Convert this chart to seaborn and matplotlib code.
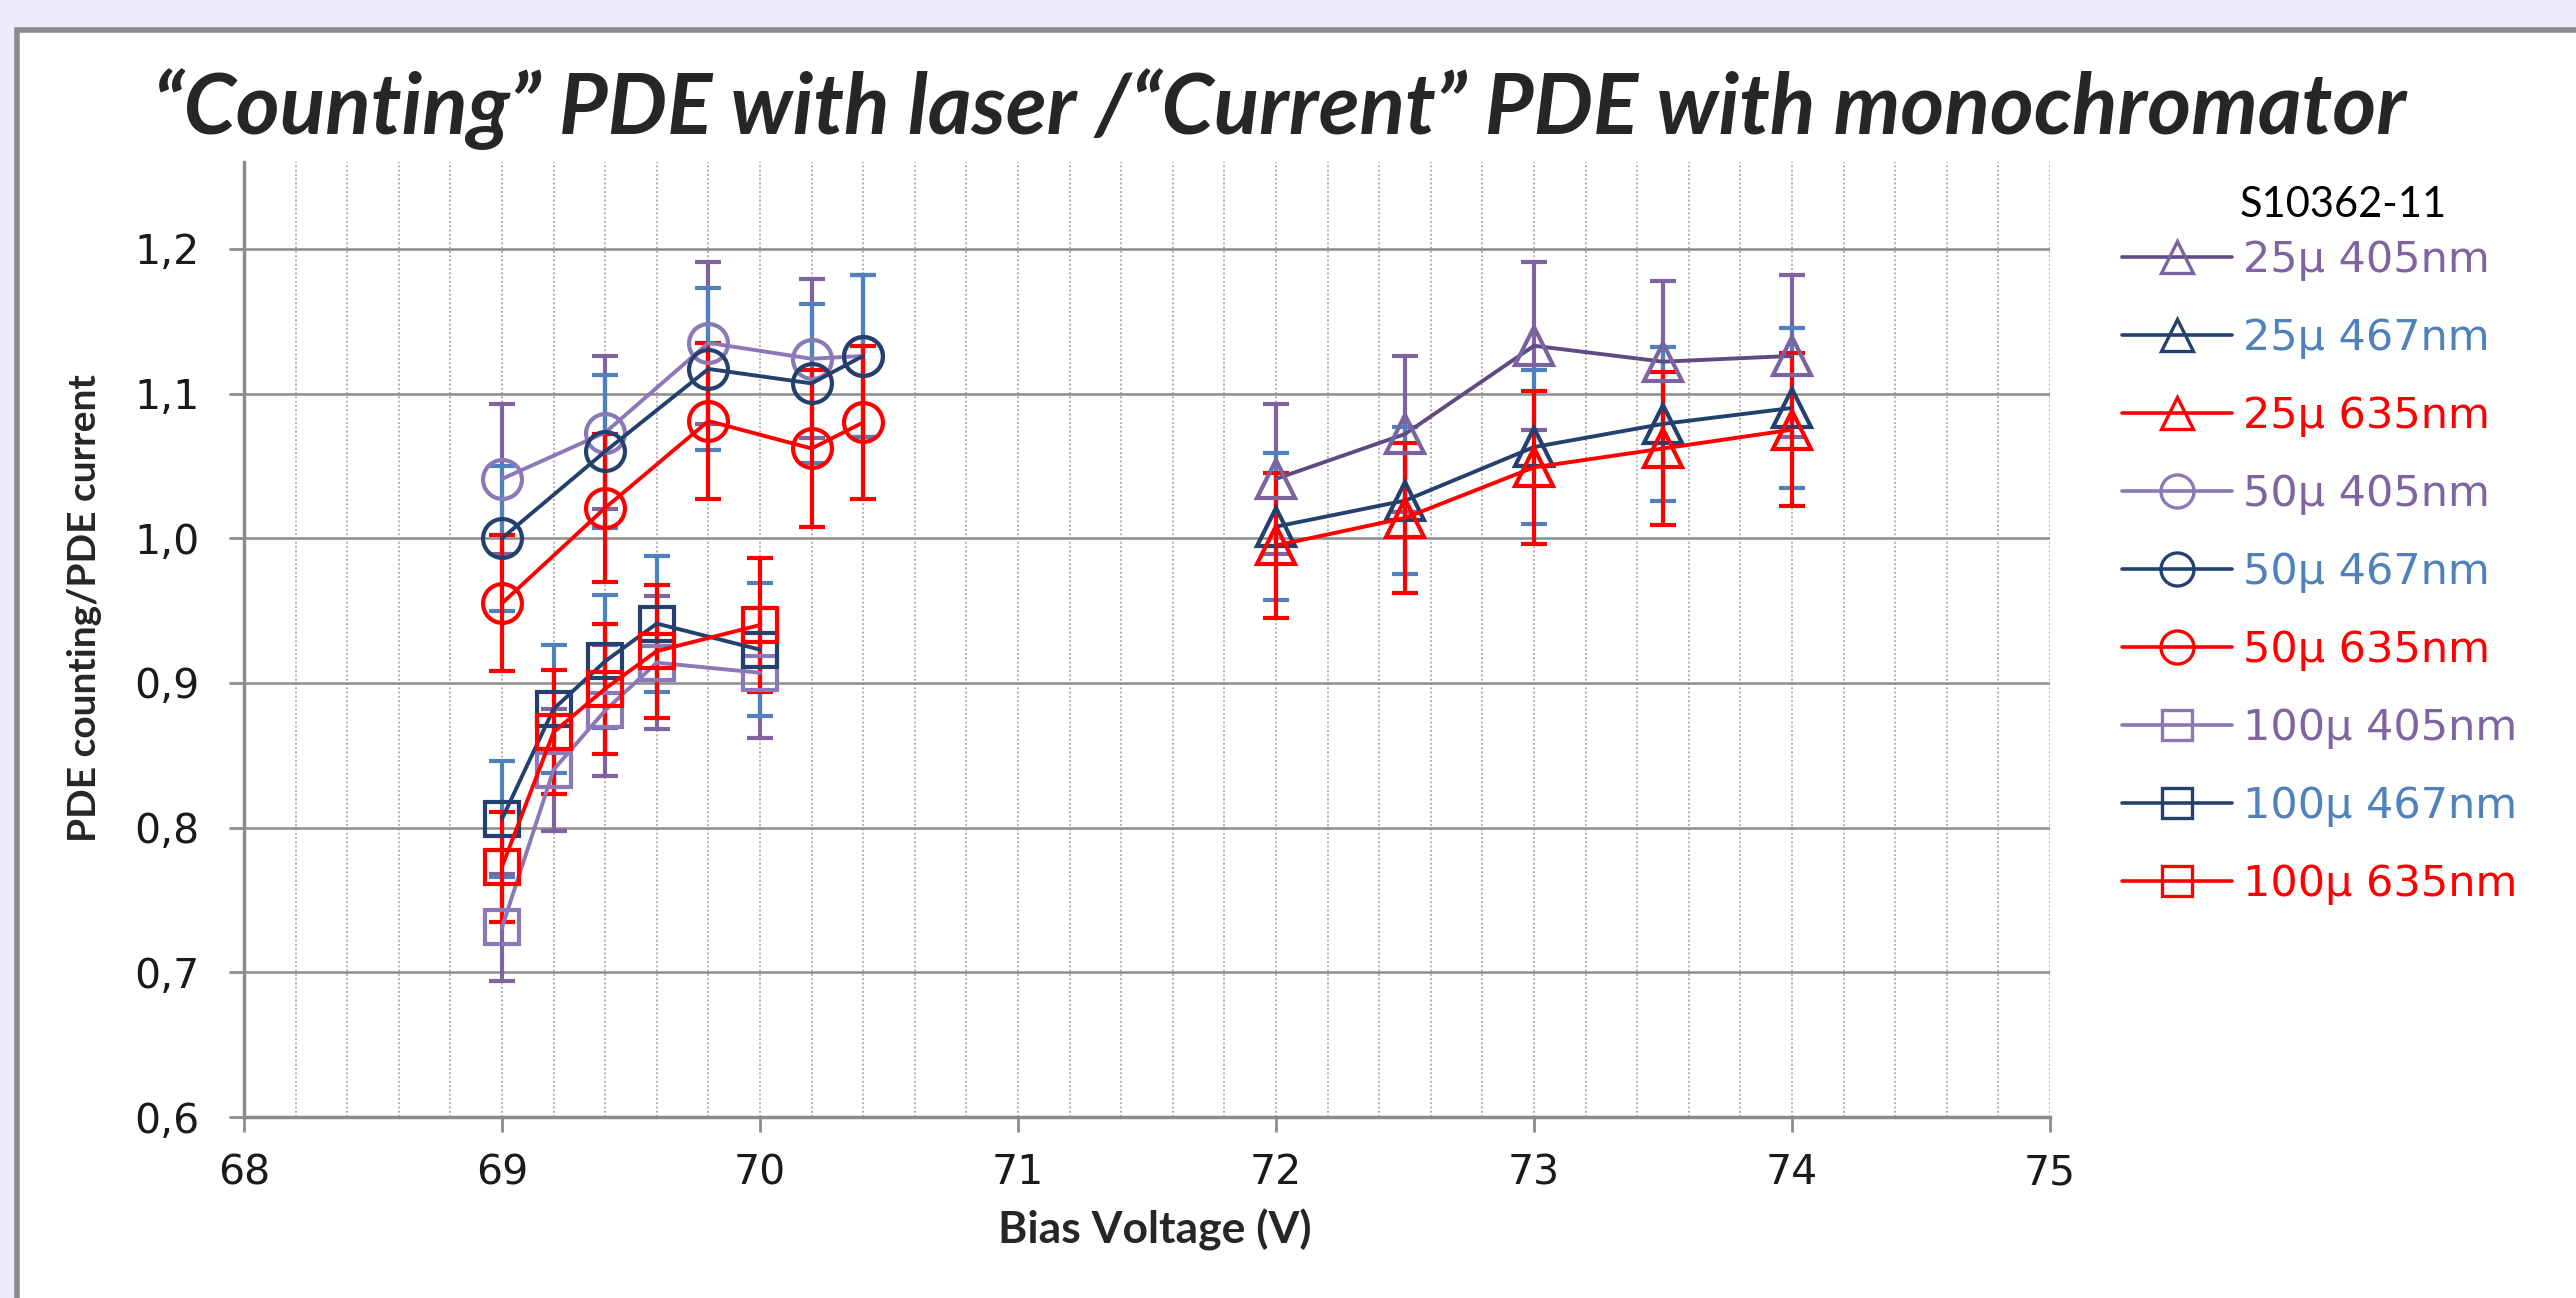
import matplotlib
matplotlib.use("Agg")
import numpy as np
import pandas as pd
import seaborn as sns
import matplotlib.pyplot as plt
from matplotlib.lines import Line2D
from matplotlib.patches import Rectangle
from matplotlib.ticker import MultipleLocator, FixedLocator, FuncFormatter

sns.set_theme(style="white")
plt.rcParams["font.family"] = ["DejaVu Sans"]

# ---------------- data ----------------
v25 = [72.0, 72.5, 73.0, 73.5, 74.0]
v50 = [69.0, 69.4, 69.8, 70.2, 70.4]
v100 = [69.0, 69.2, 69.4, 69.6, 70.0]

r25_405 = [1.041, 1.072, 1.133, 1.122, 1.126]
e25_405 = [0.052, 0.054, 0.058, 0.056, 0.056]
r25_467 = [1.008, 1.026, 1.063, 1.079, 1.090]
e25_467 = [0.051, 0.051, 0.053, 0.053, 0.055]
r25_635 = [0.995, 1.014, 1.049, 1.062, 1.075]
e25_635 = [0.050, 0.052, 0.053, 0.053, 0.053]

r50_405 = [1.041, 1.073, 1.135, 1.124, 1.126]
e50_405 = [0.052, 0.053, 0.056, 0.055, 0.056]
r50_467 = [1.000, 1.060, 1.117, 1.107, 1.126]
e50_467 = [0.050, 0.053, 0.056, 0.055, 0.056]
r50_635 = [0.955, 1.021, 1.081, 1.062, 1.080]
e50_635 = [0.047, 0.051, 0.054, 0.054, 0.053]

r100_405 = [0.731, 0.840, 0.881, 0.914, 0.907]
e100_405 = [0.037, 0.042, 0.045, 0.046, 0.045]
r100_467 = [0.806, 0.882, 0.915, 0.941, 0.923]
e100_467 = [0.040, 0.044, 0.046, 0.047, 0.046]
r100_635 = [0.773, 0.866, 0.896, 0.922, 0.940]
e100_635 = [0.038, 0.043, 0.045, 0.046, 0.046]

labels = ["25\u00b5 405nm", "25\u00b5 467nm", "25\u00b5 635nm",
          "50\u00b5 405nm", "50\u00b5 467nm", "50\u00b5 635nm",
          "100\u00b5 405nm", "100\u00b5 467nm", "100\u00b5 635nm"]
xs_list = [v25, v25, v25, v50, v50, v50, v100, v100, v100]
ys_list = [r25_405, r25_467, r25_635, r50_405, r50_467, r50_635,
           r100_405, r100_467, r100_635]
es_list = [e25_405, e25_467, e25_635, e50_405, e50_467, e50_635,
           e100_405, e100_467, e100_635]

y_ticks = [0.6, 0.7, 0.8, 0.9, 1.0, 1.1, 1.2]
x_ticks = [68, 69, 70, 71, 72, 73, 74, 75]

title = "\u201cCounting\u201d PDE with laser /\u201cCurrent\u201d PDE with monochromator"
xlabel = "Bias Voltage (V)"
ylabel = "PDE counting/PDE current"
legend_title = "S10362-11"

# ---------------- styles ----------------
PURPLE = "#8064A2"
BLUE = "#4F81BD"
RED = "#FF0000"
NAVY = "#23406E"
line_colors = ["#5F4B82", NAVY, RED, "#8B78B6", NAVY, RED, "#8B78B6", NAVY, RED]
marker_edges = ["#7A64A0", NAVY, RED, "#8B78B6", NAVY, RED, "#8B78B6", NAVY, RED]
err_colors = [PURPLE, BLUE, RED] * 3
text_colors = [PURPLE, BLUE, RED] * 3
markers = ["^"] * 3 + ["o"] * 3 + ["s"] * 3
msizes = [27] * 3 + [28] * 3 + [25] * 3

W, H = 2576, 1298
fig = plt.figure(figsize=(W / 100, H / 100), dpi=100)
fig.patch.set_facecolor("#ECECFC")
fig.patches.append(Rectangle((17 / W, -0.05), 1.2, (H - 30) / H + 0.05,
                             transform=fig.transFigure, facecolor="white",
                             edgecolor="#8A8A8A", lw=4, zorder=-5))

ax_l, ax_r = 244 / W, 2050 / W
ax_b, ax_t = (H - 1117) / H, (H - 162) / H
ax = fig.add_axes([ax_l, ax_b, ax_r - ax_l, ax_t - ax_b])
ax.set_facecolor("none")

for i in range(9):
    ax.errorbar(xs_list[i], ys_list[i], yerr=es_list[i], fmt="none",
                ecolor=err_colors[i], elinewidth=3.0, capsize=9.5, capthick=3.0,
                zorder=3)
    sns.lineplot(x=xs_list[i], y=ys_list[i], ax=ax, color=line_colors[i],
                 linewidth=2.8, marker=markers[i], markersize=msizes[i],
                 markerfacecolor="none", markeredgecolor=marker_edges[i],
                 markeredgewidth=3.0, errorbar=None, sort=False, legend=False,
                 zorder=4)

ax.set_xlim(68, 75)
ax.set_ylim(0.6, 1.26)
ax.xaxis.set_major_locator(FixedLocator(x_ticks))
ax.xaxis.set_minor_locator(MultipleLocator(0.2))
ax.yaxis.set_major_locator(FixedLocator(y_ticks))
ax.yaxis.set_major_formatter(FuncFormatter(lambda v, p: f"{v:.1f}".replace(".", ",")))
ax.xaxis.set_major_formatter(FuncFormatter(lambda v, p: f"{int(round(v))}"))
ax.set_axisbelow(True)
ax.yaxis.grid(True, which="major", color="#8C8C8C", lw=1.8, ls="-")
ax.xaxis.grid(True, which="both", color="#B0B0B0", lw=1.4, ls=(0, (1, 1.2)))
for s in ["top", "right"]:
    ax.spines[s].set_visible(False)
for s in ["left", "bottom"]:
    ax.spines[s].set_color("#8C8C8C")
    ax.spines[s].set_linewidth(2.5)
ax.tick_params(axis="both", which="major", direction="out", length=11, width=2,
               color="#8C8C8C", labelsize=29.5, labelcolor="#1A1A1A",
               bottom=True, left=True)
ax.tick_params(axis="x", which="major", pad=15)
ax.tick_params(axis="y", which="major", pad=21)
ax.tick_params(which="minor", length=0)
ax.set_xlabel("")
ax.set_ylabel("")

fig.text(1280 / W, 1 - 109 / H, title, family=["Lato", "DejaVu Sans"],
         weight="bold", style="italic", fontsize=60.5, ha="center", va="center")
fig.text(85 / W, 1 - 608 / H, ylabel, family=["Lato", "DejaVu Sans"],
         weight="bold", fontsize=28, rotation=90, ha="center", va="center")
fig.text(1155 / W, 1 - 1230 / H, xlabel, family=["Lato", "DejaVu Sans"],
         weight="bold", fontsize=32, ha="center", va="center")
fig.text(2343 / W, 1 - 205 / H, legend_title, family=["Lato", "DejaVu Sans"],
         fontsize=30, ha="center", va="center", color="black")

handles = [Line2D([], [], color=line_colors[i], lw=2.6, marker=markers[i],
                  markersize=msizes[i] * 0.85, markerfacecolor="none",
                  markeredgecolor=marker_edges[i], markeredgewidth=2.4)
           for i in range(9)]
fig.legend(handles, labels, loc="upper left", bbox_to_anchor=(2122 / W, 1 - 239 / H),
           frameon=False, fontsize=31, handlelength=2.55, handletextpad=0.25,
           labelspacing=0.835, borderpad=0, borderaxespad=0, labelcolor=text_colors)

fig.savefig("out.png", dpi=100)
